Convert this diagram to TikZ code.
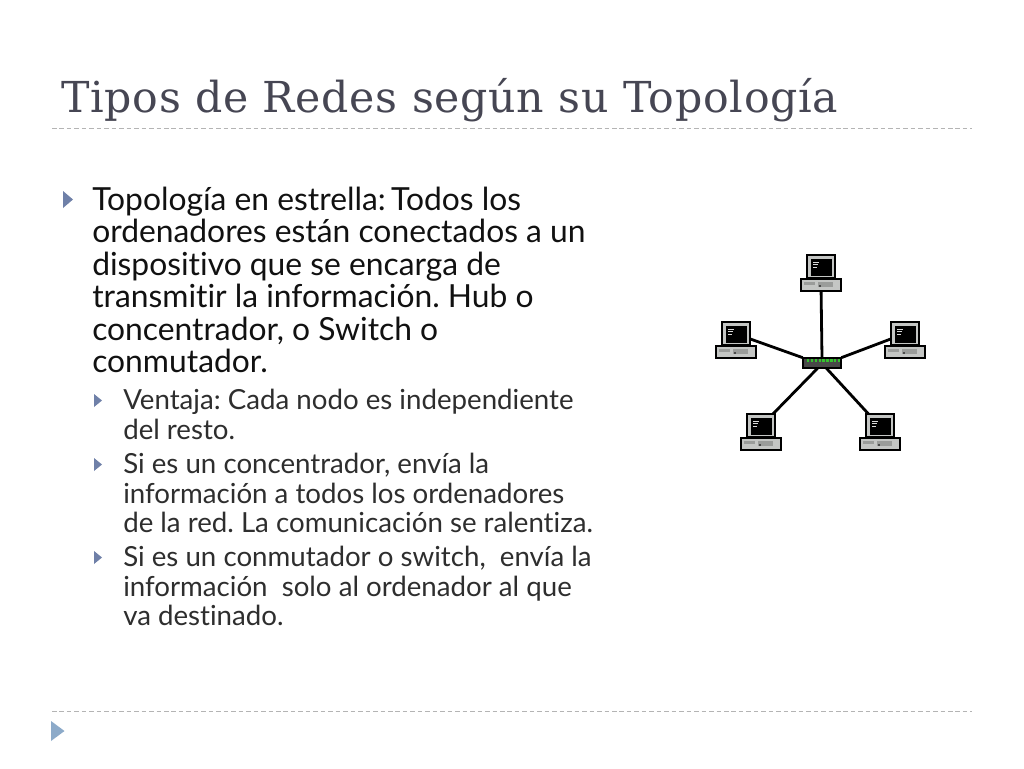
\documentclass[tikz,border=0pt]{standalone}
\usepackage{fontspec}
\setmainfont[Ligatures={NoCommon,TeX}]{Lato}
\frenchspacing
\newfontfamily\titlefont[LetterSpace=1.7]{DejaVu Serif}
\definecolor{titlecol}{HTML}{464653}
\definecolor{rulecol}{HTML}{B4B4B4}
\definecolor{bulletcol}{HTML}{6F80A8}
\definecolor{cornercol}{HTML}{8CAAC9}
\definecolor{bodycol}{HTML}{111111}
\definecolor{subcol}{HTML}{2E2E2E}
\definecolor{pcgrey}{HTML}{C4C6C4}
\definecolor{panelgrey}{HTML}{9A9C9A}
\definecolor{hubgrey}{HTML}{484848}
\definecolor{hubgreen}{HTML}{35C32F}
\tikzset{
  x=0.75pt,y=-0.75pt,
  rulestyle/.style={draw=rulecol,line width=0.75pt,dash pattern=on 3.4pt off 2.2pt},
  bullettri/.style={fill=bulletcol,draw=none},
  corner/.style={fill=cornercol,draw=none},
  maintext/.style={anchor=north west,inner sep=0pt,align=left,text=bodycol,font=\fontsize{23.85pt}{24.4pt}\selectfont},
  subtext/.style={anchor=north west,inner sep=0pt,align=left,text=subcol,font=\fontsize{20.75pt}{22.2pt}\selectfont},
  titletext/.style={anchor=base west,inner sep=0pt,text=titlecol,font=\titlefont\fontsize{32pt}{36pt}\selectfont},
  netline/.style={draw=black,line width=2.1pt},
  pcframe/.style={draw=black,line width=1.6pt,fill=pcgrey,inner sep=0pt,outer sep=0pt,rectangle},
  computer/.pic={
    \node[pcframe,minimum width=21pt,minimum height=17pt] (-mon) at (0,-12) {};
    \fill[black] (-10.5,-20) rectangle (10.5,-2.5);
    \fill[white!85!black] (-8,-17) rectangle (-2,-16.2);
    \fill[white!85!black] (-8,-14.5) rectangle (-3,-13.7);
    \fill[white!85!black] (-8,-12) rectangle (-4.5,-11.2);
    \node[pcframe,minimum width=30pt,minimum height=9pt] (-base) at (0,6.5) {};
    \fill[panelgrey] (-17,3.5) rectangle (-6,6.5);
    \fill[panelgrey] (-3,3) rectangle (12,8);
    \fill[black!70] (-2,6.5) rectangle (0,8);
  }
}
\begin{document}
\begin{tikzpicture}
\useasboundingbox[fill=white] (0,0) rectangle (1024,768);
\node[titletext] (title) at (61,112) {Tipos de Redes según su Topología};
\coordinate (ruleAl) at (52,128); \coordinate (ruleAr) at (972,128);
\coordinate (ruleBl) at (52,711); \coordinate (ruleBr) at (972,711);
\draw[rulestyle] (ruleAl) -- (ruleAr);
\draw[rulestyle] (ruleBl) -- (ruleBr);
\fill[corner] (51,721) -- (64.5,731) -- (51,741) -- cycle;
\fill[bullettri] (63,191) -- (73,199.5) -- (63,208) -- cycle;
\fill[bullettri] (94,394) -- (102,400.5) -- (94,407) -- cycle;
\fill[bullettri] (94,458) -- (102,464.5) -- (94,471) -- cycle;
\fill[bullettri] (94,551) -- (102,557.5) -- (94,564) -- cycle;
\node[maintext] (main) at (92,186.5) {Topología en estrella:\,Todos los\\ordenadores están conectados a un\\dispositivo que se encarga de\\transmitir la información. Hub o\\concentrador, o Switch o\\conmutador.};
\node[subtext] (s1) at (123,389) {Ventaja: Cada nodo es independiente\\del resto.};
\node[subtext] (s2) at (123,453) {Si es un concentrador, envía la\\información a todos los ordenadores\\de la red. La comunicación se ralentiza.};
\node[subtext] (s3) at (123,546) {Si es un conmutador o switch,\ \ envía la\\información\ \ solo al ordenador al que\\va destinado.};
% network
\pic (pc1) at (821,278.5) {computer};
\pic (pc2) at (736,345.5) {computer};
\pic (pc3) at (905,345.5) {computer};
\pic (pc4) at (761,437.5) {computer};
\pic (pc5) at (880,437.5) {computer};
\node[rectangle,draw=black,line width=1.6pt,fill=hubgrey,minimum width=29pt,minimum height=8pt,inner sep=0pt,outer sep=0pt] (hub) at (822,363) {};
\foreach \i in {0,...,8} \fill[hubgreen] (807+\i*3.85,359.2) rectangle +(2.4,2.4);
\draw[netline] (pc1-base) -- (hub.north);
\draw[netline] (pc2-mon.-21) -- (hub.north west);
\draw[netline] (pc3-mon.201) -- (hub.north east);
\draw[netline] (pc4-mon.44) -- (hub.230);
\draw[netline] (pc5-mon.135) -- (hub.310);
\end{tikzpicture}
\end{document}
